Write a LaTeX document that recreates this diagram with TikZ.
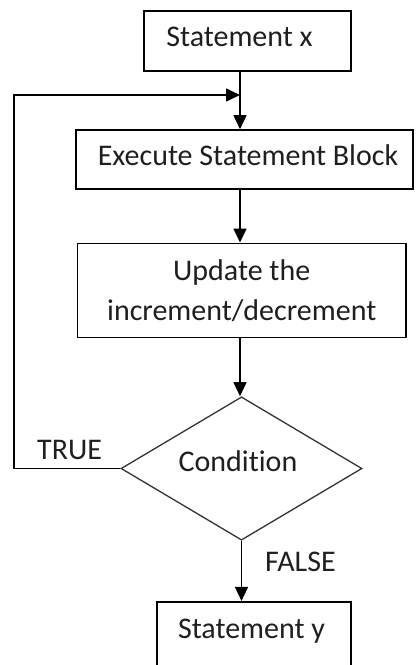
\documentclass[tikz,border=0pt]{standalone}
\usepackage{fontspec}
\setmainfont{Carlito}[Ligatures=NoCommon]
\usetikzlibrary{shapes.geometric,arrows.meta}
\begin{document}
\begin{tikzpicture}[x=1pt,y=-1pt,
  every node/.style={font=\fontsize{30}{40}\selectfont, text=black!88},
  procbox/.style={draw=black, line width=1.6pt, rectangle, inner sep=0pt},
  decbox/.style={draw=black!80, line width=1.3pt, diamond, inner sep=0pt,
    minimum width=241pt, minimum height=143pt},
  flow/.style={draw=black, line width=1.6pt, -{Triangle[length=14pt,width=13pt]}},
  tag/.style={anchor=base west, inner sep=0pt}]
\clip (0,0) rectangle (417,665);

% process boxes and the decision
\node[procbox, minimum width=206.7pt, minimum height=60pt,
  text height=19pt, text depth=6.5pt] (sx) at (247.35,40.7) {\kern-15.7pt Statement x};
\node[procbox, minimum width=336.7pt, minimum height=59pt,
  text height=19pt, text depth=6.5pt] (exec) at (244.35,159.5) {\kern7.3pt Execute Statement Block};
\node[procbox, minimum width=328.7pt, minimum height=94pt, align=center,
  text height=65.9pt, text depth=6.5pt] (upd) at (241.7,290.3) {Update the\\increment/decrement};
\node[decbox, text height=19pt, text depth=12.6pt] (cond) at (241.5,468.5) {\kern-7pt Condition};
\node[procbox, minimum width=194pt, minimum height=74pt,
  text height=19pt, text depth=20.4pt] (sy) at (253.7,638.7) {\kern-4.4pt Statement y};

% branch labels
\node[tag] (truelbl) at (37,459) {TRUE};
\node[tag] (falselbl) at (265,571) {FALSE};

% helper coordinates for the main flow line and the loop-back path
\coordinate (spine) at (240,0);
\coordinate (loopleft) at (14,0);
\coordinate (join) at (240,95);

% connectors
\draw[flow] (sx.south -| spine) -- (exec.north -| spine);
\draw[flow] (exec.south -| spine) -- (upd.north -| spine);
\draw[flow] (upd.south -| spine) -- (cond.north -| spine);
\draw[flow] (cond.south) -- (sy.north -| cond.south);
\draw[flow] (cond.west) -| (loopleft |- join) -- (join);
\end{tikzpicture}
\end{document}
